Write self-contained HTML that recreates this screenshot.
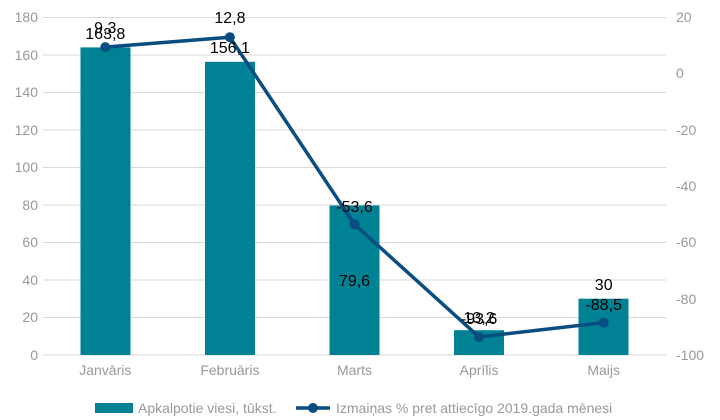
<!DOCTYPE html>
<html><head><meta charset="utf-8"><style>body{margin:0;background:#fff}svg{display:block;font-family:"Liberation Sans",sans-serif}</style></head><body>
<svg width="720" height="420" viewBox="0 0 720 420">
<g stroke="#d9d9d9" stroke-width="1">
<line x1="43" x2="666" y1="17.5" y2="17.5"/><line x1="43" x2="666" y1="55" y2="55"/><line x1="43" x2="666" y1="92.5" y2="92.5"/><line x1="43" x2="666" y1="130" y2="130"/><line x1="43" x2="666" y1="167.5" y2="167.5"/><line x1="43" x2="666" y1="205" y2="205"/><line x1="43" x2="666" y1="242.5" y2="242.5"/><line x1="43" x2="666" y1="280" y2="280"/><line x1="43" x2="666" y1="317.5" y2="317.5"/><line x1="43" x2="666" y1="355" y2="355"/>
</g>
<g fill="#999" font-size="14" text-anchor="end">
<text x="38" y="22">180</text><text x="38" y="60">160</text><text x="38" y="97">140</text><text x="38" y="135">120</text><text x="38" y="172">100</text><text x="38" y="210">80</text><text x="38" y="247">60</text><text x="38" y="285">40</text><text x="38" y="322">20</text><text x="38" y="360">0</text>
</g>
<g fill="#999" font-size="14" text-anchor="start">
<text x="676" y="22">20</text><text x="676" y="78">0</text><text x="676" y="135">-20</text><text x="676" y="191">-40</text><text x="676" y="247">-60</text><text x="676" y="304">-80</text><text x="676" y="360">-100</text>
</g>
<g fill="#008294">
<rect x="80.5" y="47.4" width="50" height="307.6"/><rect x="205" y="61.8" width="50" height="293.2"/><rect x="329.5" y="205.5" width="50" height="149.5"/><rect x="454" y="330.2" width="50" height="24.8"/><rect x="578.5" y="298.7" width="50" height="56.3"/>
</g>
<g fill="#999" font-size="14" text-anchor="middle">
<text x="105.3" y="375">Janvāris</text><text x="229.9" y="375">Februāris</text><text x="354.5" y="375">Marts</text><text x="479.1" y="375">Aprīlis</text><text x="603.7" y="375">Maijs</text>
</g>
<polyline points="105.3,47.1 229.9,37.2 354.5,224.3 479.1,337 603.7,322.6" fill="none" stroke="#0a4d80" stroke-width="3.5"/>
<g fill="#0a4d80"><circle cx="105.3" cy="47.1" r="5"/><circle cx="229.9" cy="37.2" r="5"/><circle cx="354.5" cy="224.3" r="5"/><circle cx="479.1" cy="337" r="5"/><circle cx="603.7" cy="322.6" r="5"/></g>
<g fill="#000" font-size="16" text-anchor="middle">
<text x="105.3" y="39">163,8</text><text x="229.9" y="53">156,1</text><text x="354.5" y="286">79,6</text><text x="479.1" y="323">13,2</text><text x="603.7" y="290">30</text>
<text x="105.3" y="33">9,3</text><text x="229.9" y="23">12,8</text><text x="354.5" y="212">-53,6</text><text x="479.1" y="324">-93,6</text><text x="603.7" y="310">-88,5</text>
</g>
<rect x="95" y="403" width="38" height="10" fill="#008294"/>
<text x="138" y="413" fill="#999" font-size="14">Apkalpotie viesi, tūkst.</text>
<line x1="296" x2="330" y1="408" y2="408" stroke="#0a4d80" stroke-width="3.5"/><circle cx="313" cy="408" r="5" fill="#0a4d80"/>
<text x="336" y="413" fill="#999" font-size="14">Izmaiņas % pret attiecīgo 2019.gada mēnesi</text>
</svg>
</body></html>
